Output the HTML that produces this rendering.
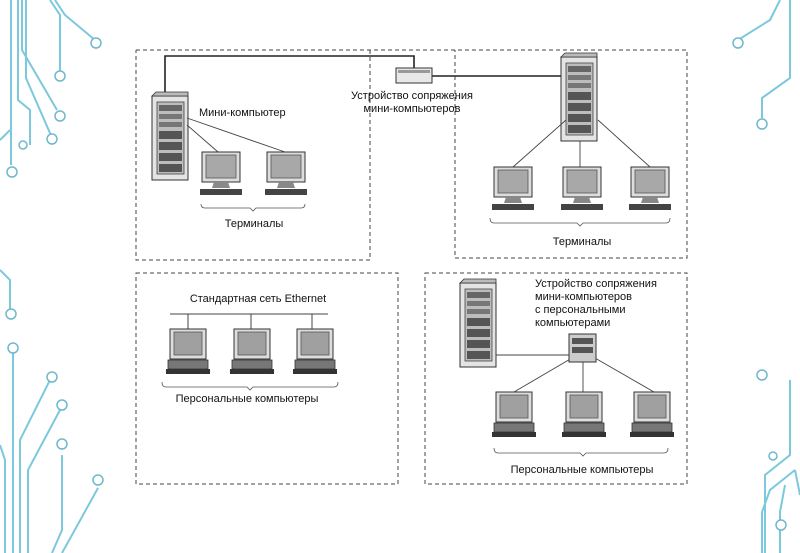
<!DOCTYPE html>
<html><head><meta charset="utf-8"><style>
html,body{margin:0;padding:0;background:#fff;width:800px;height:553px;overflow:hidden}
svg text{font-family:"Liberation Sans","Noto Sans CJK SC",sans-serif;font-size:11px;fill:#111}
</style></head><body>
<svg width="800" height="553" viewBox="0 0 800 553" xmlns="http://www.w3.org/2000/svg">
<defs>
<g id="srv">
 <rect x="0" y="0" width="36" height="84" fill="#e4e4e4" stroke="#333" stroke-width="1"/>
 <polygon points="0,0 4,-4 36,-4 36,0" fill="#bbb" stroke="#333" stroke-width="0.8"/>
 <rect x="5" y="6" width="27" height="72" fill="#bdbdbd" stroke="#444" stroke-width="0.8"/>
 <rect x="7" y="9" width="23" height="6" fill="#666"/>
 <rect x="7" y="18" width="23" height="5" fill="#777"/>
 <rect x="7" y="26" width="23" height="5" fill="#777"/>
 <rect x="7" y="35" width="23" height="8" fill="#555"/>
 <rect x="7" y="46" width="23" height="8" fill="#555"/>
 <rect x="7" y="57" width="23" height="8" fill="#555"/>
 <rect x="7" y="68" width="23" height="8" fill="#555"/>
</g>
<g id="term">
 <rect x="0" y="0" width="38" height="30" fill="#ddd" stroke="#333"/>
 <rect x="4" y="3" width="30" height="23" fill="#a8a8a8" stroke="#555" stroke-width="0.8"/>
 <polygon points="12,30 26,30 28,36 10,36" fill="#888"/>
 <rect x="-2" y="37" width="42" height="6" fill="#444"/>
</g>
<g id="pc">
 <rect x="2" y="0" width="36" height="30" fill="#ddd" stroke="#333"/>
 <rect x="6" y="3" width="28" height="23" fill="#a0a0a0" stroke="#555" stroke-width="0.8"/>
 <rect x="0" y="31" width="40" height="9" fill="#777" stroke="#333" stroke-width="0.8"/>
 <rect x="-2" y="40" width="44" height="5" fill="#333"/>
</g>
</defs>

<!-- circuit decorations -->
<g fill="none" stroke="#7cc8dc" stroke-width="2">
 <path d="M11 0 V165 M18 0 V100 L30 110 V145 M26 0 V78 L53 140 M22 0 V50 L57 110 M50 0 L60 15 V72 M55 0 L65 15 L95 40 M0 140 L10 130"/>
 <path d="M0 270 L10 280 V310 M13 348 V553 M0 445 L5 460 V553 M20 553 V440 L50 380 M28 553 V470 L60 410 M52 553 L62 530 V455 M62 553 L98 488"/>
 <path d="M790 0 V78 L762 98 V118 M780 0 L770 20 L738 40 M795 470 L770 490 L762 512 V553 M780 553 V512 L785 485 M765 553 V475 L790 455 V380 M800 495 L795 470"/>
</g>
<g fill="#fff" stroke="#6fb8cc" stroke-width="1.5">
 <circle cx="96" cy="43" r="5"/><circle cx="60" cy="76" r="5"/><circle cx="60" cy="116" r="5"/><circle cx="52" cy="139" r="5"/><circle cx="23" cy="145" r="4"/><circle cx="12" cy="172" r="5"/>
 <circle cx="11" cy="314" r="5"/><circle cx="13" cy="348" r="5"/><circle cx="52" cy="377" r="5"/><circle cx="62" cy="405" r="5"/><circle cx="62" cy="444" r="5"/><circle cx="98" cy="480" r="5"/>
 <circle cx="738" cy="43" r="5"/><circle cx="762" cy="124" r="5"/><circle cx="762" cy="375" r="5"/><circle cx="773" cy="456" r="4"/><circle cx="781" cy="525" r="5"/>
</g>

<!-- dashed boxes -->
<g fill="none" stroke="#444" stroke-width="1" stroke-dasharray="4,3">
 <path d="M136 50 H687 V258 H455 V50 M370 50 V260 H136 V50"/>
 <rect x="136" y="273" width="262" height="211"/>
 <rect x="425" y="273" width="262" height="211"/>
</g>

<!-- top-left -->
<path d="M165 95 V56 H414 V68" fill="none" stroke="#222" stroke-width="1.6"/>
<path d="M432 76 H562" fill="none" stroke="#222" stroke-width="1.4"/>
<rect x="396" y="68" width="36" height="15" fill="#e8e8e8" stroke="#333"/>
<rect x="398" y="70" width="32" height="3" fill="#999"/>
<use href="#srv" x="152" y="96"/>
<path d="M187 125 L218 152 M187 118 L285 152" stroke="#444" stroke-width="0.9" fill="none"/>
<use href="#term" x="202" y="152"/>
<use href="#term" x="267" y="152"/>
<path d="M201 204 Q201 208 205 208 H250 L253 211 L256 208 H301 Q305 208 305 204" fill="none" stroke="#555" stroke-width="0.8"/>
<text x="199" y="116" font-size="11">Мини-компьютер</text>
<text x="254" y="227" text-anchor="middle">Терминалы</text>
<text x="412" y="99" text-anchor="middle">Устройство сопряжения</text>
<text x="412" y="112" text-anchor="middle">мини-компьютеров</text>

<!-- top-right -->
<use href="#srv" x="561" y="57"/>
<path d="M566 120 L513 167 M580 141 V167 M598 120 L650 167" stroke="#444" stroke-width="0.9" fill="none"/>
<use href="#term" x="494" y="167"/>
<use href="#term" x="563" y="167"/>
<use href="#term" x="631" y="167"/>
<path d="M490 218 Q490 223 494 223 H577 L580 226 L583 223 H666 Q670 223 670 218" fill="none" stroke="#555" stroke-width="0.8"/>
<text x="582" y="245" text-anchor="middle">Терминалы</text>

<!-- bottom-left -->
<text x="258" y="302" text-anchor="middle">Стандартная сеть Ethernet</text>
<path d="M170 314 H328 M188 314 V329 M251 314 V329 M312 314 V329" stroke="#444" stroke-width="1" fill="none"/>
<use href="#pc" x="168" y="329"/>
<use href="#pc" x="232" y="329"/>
<use href="#pc" x="295" y="329"/>
<path d="M162 382 Q162 387 166 387 H247 L250 390 L253 387 H334 Q338 387 338 382" fill="none" stroke="#555" stroke-width="0.8"/>
<text x="247" y="402" text-anchor="middle">Персональные компьютеры</text>

<!-- bottom-right -->
<text x="535" y="287">Устройство сопряжения</text>
<text x="535" y="300">мини-компьютеров</text>
<text x="535" y="313">с персональными</text>
<text x="535" y="326">компьютерами</text>
<use href="#srv" x="460" y="283"/>
<path d="M496 355 H569 M572 358 L514 392 M583 362 V392 M595 358 L654 392" stroke="#444" stroke-width="0.9" fill="none"/>
<rect x="569" y="334" width="27" height="28" fill="#ccc" stroke="#333"/>
<rect x="572" y="338" width="21" height="6" fill="#555"/><rect x="572" y="347" width="21" height="6" fill="#555"/>
<use href="#pc" x="494" y="392"/>
<use href="#pc" x="564" y="392"/>
<use href="#pc" x="632" y="392"/>
<path d="M494 448 Q494 453 498 453 H580 L583 456 L586 453 H664 Q668 453 668 448" fill="none" stroke="#555" stroke-width="0.8"/>
<text x="582" y="473" text-anchor="middle">Персональные компьютеры</text>
</svg>
</body></html>
